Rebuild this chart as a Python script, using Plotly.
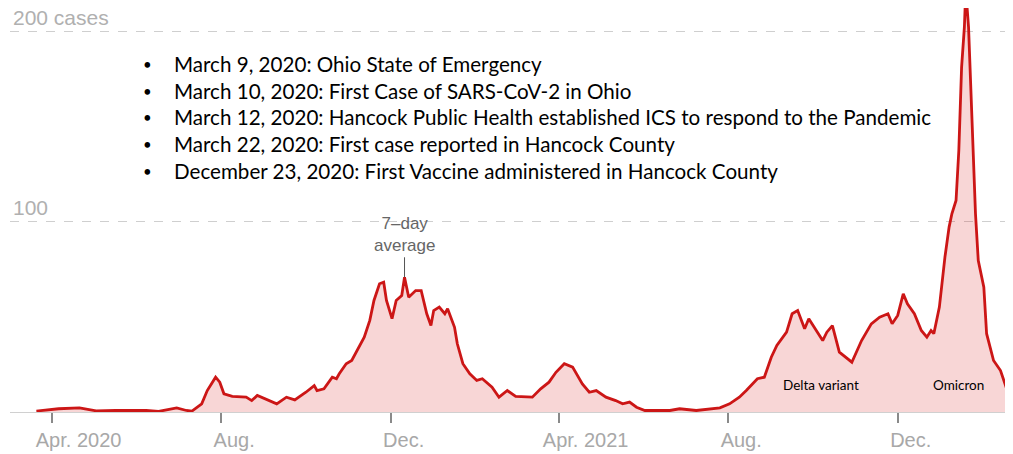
"""
Hancock County daily COVID-19 cases, 7-day average
"""
import plotly.graph_objects as go

# 7-day average
dates = [
    "2020-03-21", "2020-04-06", "2020-04-21", "2020-05-03", "2020-05-17", "2020-06-08",
    "2020-06-17", "2020-06-30", "2020-07-07", "2020-07-11", "2020-07-18", "2020-07-22",
    "2020-07-28", "2020-07-31", "2020-08-03", "2020-08-09", "2020-08-19", "2020-08-23",
    "2020-08-27", "2020-09-02", "2020-09-10", "2020-09-17", "2020-09-23", "2020-10-01",
    "2020-10-07", "2020-10-09", "2020-10-14", "2020-10-20", "2020-10-23", "2020-10-25",
    "2020-10-30", "2020-11-03", "2020-11-08", "2020-11-12", "2020-11-16", "2020-11-19",
    "2020-11-23", "2020-11-26", "2020-11-28", "2020-12-02", "2020-12-05", "2020-12-09",
    "2020-12-11", "2020-12-14", "2020-12-19", "2020-12-23", "2020-12-27", "2020-12-30",
    "2021-01-01", "2021-01-05", "2021-01-09", "2021-01-11", "2021-01-16", "2021-01-18",
    "2021-01-22", "2021-01-27", "2021-02-01", "2021-02-05", "2021-02-12", "2021-02-17",
    "2021-02-23", "2021-03-01", "2021-03-13", "2021-03-19", "2021-03-25", "2021-03-30",
    "2021-04-05", "2021-04-11", "2021-04-18", "2021-04-23", "2021-04-28", "2021-05-05",
    "2021-05-12", "2021-05-17", "2021-05-22", "2021-05-27", "2021-06-02", "2021-06-20",
    "2021-06-27", "2021-07-09", "2021-07-26", "2021-08-02", "2021-08-09", "2021-08-14",
    "2021-08-22", "2021-08-27", "2021-09-01", "2021-09-05", "2021-09-12", "2021-09-16",
    "2021-09-20", "2021-09-25", "2021-09-28", "2021-10-02", "2021-10-08", "2021-10-11",
    "2021-10-15", "2021-10-20", "2021-10-29", "2021-11-05", "2021-11-12", "2021-11-18",
    "2021-11-24", "2021-11-27", "2021-12-01", "2021-12-05", "2021-12-08", "2021-12-13",
    "2021-12-18", "2021-12-22", "2021-12-25", "2021-12-27", "2021-12-31", "2022-01-04",
    "2022-01-07", "2022-01-09", "2022-01-12", "2022-01-14", "2022-01-16", "2022-01-18",
    "2022-01-19", "2022-01-21", "2022-01-23", "2022-01-26", "2022-01-28", "2022-02-01",
    "2022-02-03", "2022-02-08", "2022-02-13", "2022-02-17", "2022-02-21", "2022-02-24",
]
cases = [
    0.5, 1.7, 2.2, 0.6, 0.8, 0.8,
    0.3, 2.2, 0.8, 0.5, 4.3, 11.3,
    18.3, 15.7, 9.6, 8.2, 7.8, 6.0,
    8.7, 6.9, 4.3, 7.8, 6.4, 10.4,
    13.9, 11.3, 12.2, 18.3, 17.5, 20.1,
    25.4, 27.1, 34.1, 39.4, 48.2, 58.7,
    67.5, 68.3, 58.7, 49.1, 58.7, 61.3,
    70.9, 60.4, 63.9, 63.9, 51.7, 45.5,
    53.4, 55.2, 51.7, 54.3, 44.6, 35.9,
    25.4, 20.1, 16.6, 17.5, 13.1, 7.8,
    11.3, 8.2, 7.8, 12.2, 15.7, 20.9,
    25.4, 23.6, 14.8, 10.4, 11.3, 7.8,
    6.0, 4.3, 5.2, 2.5, 0.8, 0.8,
    1.7, 0.8, 2.2, 4.3, 7.8, 11.3,
    17.5, 18.3, 28.8, 35.0, 42.0, 51.7,
    53.4, 43.8, 49.1, 44.6, 37.6, 42.0,
    45.5, 31.5, 26.2, 37.6, 46.4, 49.9,
    51.7, 46.4, 50.8, 62.2, 56.9, 51.7,
    42.9, 39.4, 42.9, 41.2, 55.2, 81.5,
    97.3, 104.3, 111.3, 137.6, 181.5, 202.5,
    222.0, 202.5, 163.9, 104.3, 79.7, 65.7,
    41.2, 27.1, 21.8, 13.1, 6.0, 3.0,
]

tick_dates = ["2020-04-01", "2020-08-01", "2020-12-01", "2021-04-01", "2021-08-01", "2021-12-01"]
# 原图中“Apr.”标签的月份缩写对准刻度，年份在右侧，用不换行空格补齐
tick_labels = ["\u00a0" * 5 + "Apr. 2020", "Aug.", "Dec.", "\u00a0" * 5 + "Apr. 2021", "Aug.", "Dec."]
y_ticks = [100, 200]
y_labels = ["100", "200 cases"]

events = [
    "March 9, 2020: Ohio State of Emergency",
    "March 10, 2020: First Case of SARS-CoV-2 in Ohio",
    "March 12, 2020: Hancock Public Health established ICS to respond to the Pandemic",
    "March 22, 2020: First case reported in Hancock County",
    "December 23, 2020: First Vaccine administered in Hancock County",
]

fig = go.Figure()

fig.add_trace(go.Scatter(
    x=dates,
    y=cases,
    mode='lines',
    line=dict(color='#cc1616', width=2.8),
    fill='tozeroy',
    fillcolor='rgba(215, 25, 25, 0.18)',
    showlegend=False,
    hoverinfo='skip'
))

# 关键日期列表
for i, ev in enumerate(events):
    y_pos = 183 - i * 14.0
    fig.add_annotation(
        text="•", xref="paper", x=0.137, y=y_pos,
        xanchor="center", yanchor="middle", showarrow=False,
        font=dict(family="Lato", size=15, color="black")
    )
    fig.add_annotation(
        text=ev, xref="paper", x=0.1615, y=y_pos,
        xanchor="left", yanchor="middle", showarrow=False,
        font=dict(family="Lato", size=20.6, color="black")
    )

fig.add_annotation(
    text="7–day<br>average",
    x="2020-12-11", y=70.9,
    showarrow=True, arrowhead=0, arrowwidth=1, arrowcolor="#555",
    ax=0, ay=-20, standoff=0,
    font=dict(family="Liberation Sans", size=17, color="#666"),
    yanchor="bottom"
)
fig.add_annotation(
    text="Delta variant", x="2021-10-07", y=14, showarrow=False,
    font=dict(family="Lato", size=13.5, color="black")
)
fig.add_annotation(
    text="Omicron", x="2022-01-14", y=14, showarrow=False,
    font=dict(family="Lato", size=13.5, color="black")
)

# 页面自带 8px 边距，这里整体缩小补偿
fig.update_layout(
    width=1005,
    height=446,
    margin=dict(l=2, r=0, t=0, b=42),
    paper_bgcolor='white',
    plot_bgcolor='white',
    xaxis=dict(
        range=["2020-03-02", "2022-02-22"],
        tickvals=tick_dates,
        ticktext=tick_labels,
        ticks='outside',
        ticklen=10,
        tickcolor='#8a8a8a',
        tickwidth=1.5,
        ticklabelshift=13,
        ticklabeloverflow='allow',
        showgrid=False,
        showline=True,
        linecolor='#d0d0d0',
        linewidth=1,
        zeroline=False,
        automargin=False,
        tickfont=dict(family="Liberation Sans", size=20, color='#a8a8a8'),
    ),
    yaxis=dict(
        range=[0, 212.6],
        tickvals=y_ticks,
        ticktext=y_labels,
        ticklabelposition='inside top',
        ticklabeloverflow='allow',
        showgrid=True,
        gridcolor='#cfcfcf',
        griddash='dash',
        gridwidth=1,
        zeroline=False,
        showline=False,
        automargin=False,
        tickfont=dict(family="Liberation Sans", size=21, color='#b0b0b0'),
    ),
)

fig.write_html("out.html")
